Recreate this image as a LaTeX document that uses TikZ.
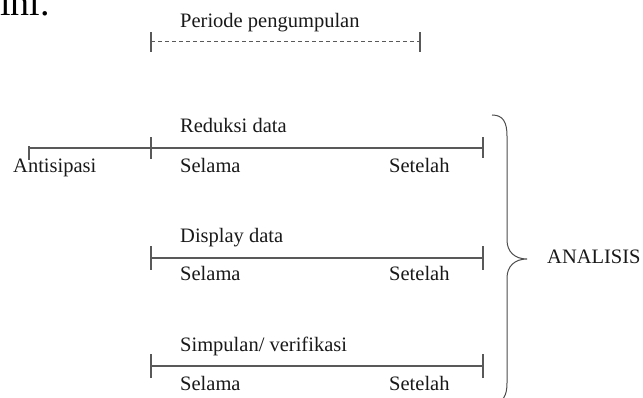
\documentclass[tikz,border=0pt]{standalone}
\usepackage{fontspec}
\setmainfont{Liberation Serif}
\begin{document}
\begin{tikzpicture}[x=1pt,y=-1pt,
  lbl/.style={inner sep=0pt,anchor=base west,font=\fontsize{20.5}{24}\selectfont,text=black!90},
  tl/.style={draw=black!65,line width=1.4pt},
  tick/.style={draw=black!65,line width=1.4pt}]
\useasboundingbox (0,0) rectangle (643,398);
\clip (0,0) rectangle (643,398);
% partial text at top
\node[inner sep=0pt,anchor=base west,font=\fontsize{38}{40}\selectfont] (ini) at (0,16) {ini.};
% Periode pengumpulan
\node[lbl] (per) at (180,28) {Periode pengumpulan};
\coordinate (p1) at (151,42); \coordinate (p2) at (420,42);
\draw[draw=black!65,line width=1pt,dash pattern=on 4pt off 3pt] (p1) -- (p2);
\draw[tick] ([yshift=-10]p1) -- ([yshift=10]p1);
\draw[tick] ([yshift=-10]p2) -- ([yshift=10]p2);
% Line 1
\coordinate (a0) at (29,148); \coordinate (a1) at (151,148); \coordinate (a2) at (483,148);
\draw[tl] (a0) -- (a2);
\draw[tick] ([yshift=-12]a0) -- ([yshift=2]a0);
\draw[tick] ([yshift=-11]a1) -- ([yshift=11]a1);
\draw[tick] ([yshift=-10]a2) -- ([yshift=11]a2);
\node[lbl] (red) at (180,133) {Reduksi data};
\node[lbl] (ant) at (13,173) {Antisipasi};
\node[lbl] (sel1) at (180,173) {Selama};
\node[lbl] (set1) at (389,173) {Setelah};
% Line 2
\coordinate (b1) at (151,258); \coordinate (b2) at (483,258);
\draw[tl] (b1) -- (b2);
\draw[tick] ([yshift=-12]b1) -- ([yshift=12]b1);
\draw[tick] ([yshift=-12]b2) -- ([yshift=12]b2);
\node[lbl] (dis) at (180,243) {Display data};
\node[lbl] (sel2) at (180,281) {Selama};
\node[lbl] (set2) at (389,281) {Setelah};
% Line 3
\coordinate (c1) at (151,366); \coordinate (c2) at (483,366);
\draw[tl] (c1) -- (c2);
\draw[tick] ([yshift=-12]c1) -- ([yshift=12]c1);
\draw[tick] ([yshift=-12]c2) -- ([yshift=12]c2);
\node[lbl] (sim) at (180,352) {Simpulan/ verifikasi};
\node[lbl] (sel3) at (180,390) {Selama};
\node[lbl] (set3) at (389,390) {Setelah};
% Brace
\draw[draw=black!70,line width=1pt]
  (492,115) .. controls (503,115) and (507,122) .. (507,136) -- (507,240)
  .. controls (507,252) and (515,259) .. (527,259)
  .. controls (515,259) and (507,266) .. (507,278) -- (507,383)
  .. controls (507,396) and (503,403) .. (492,403);
\node[lbl] (ana) at (547,264) {ANALISIS};
\end{tikzpicture}
\end{document}
